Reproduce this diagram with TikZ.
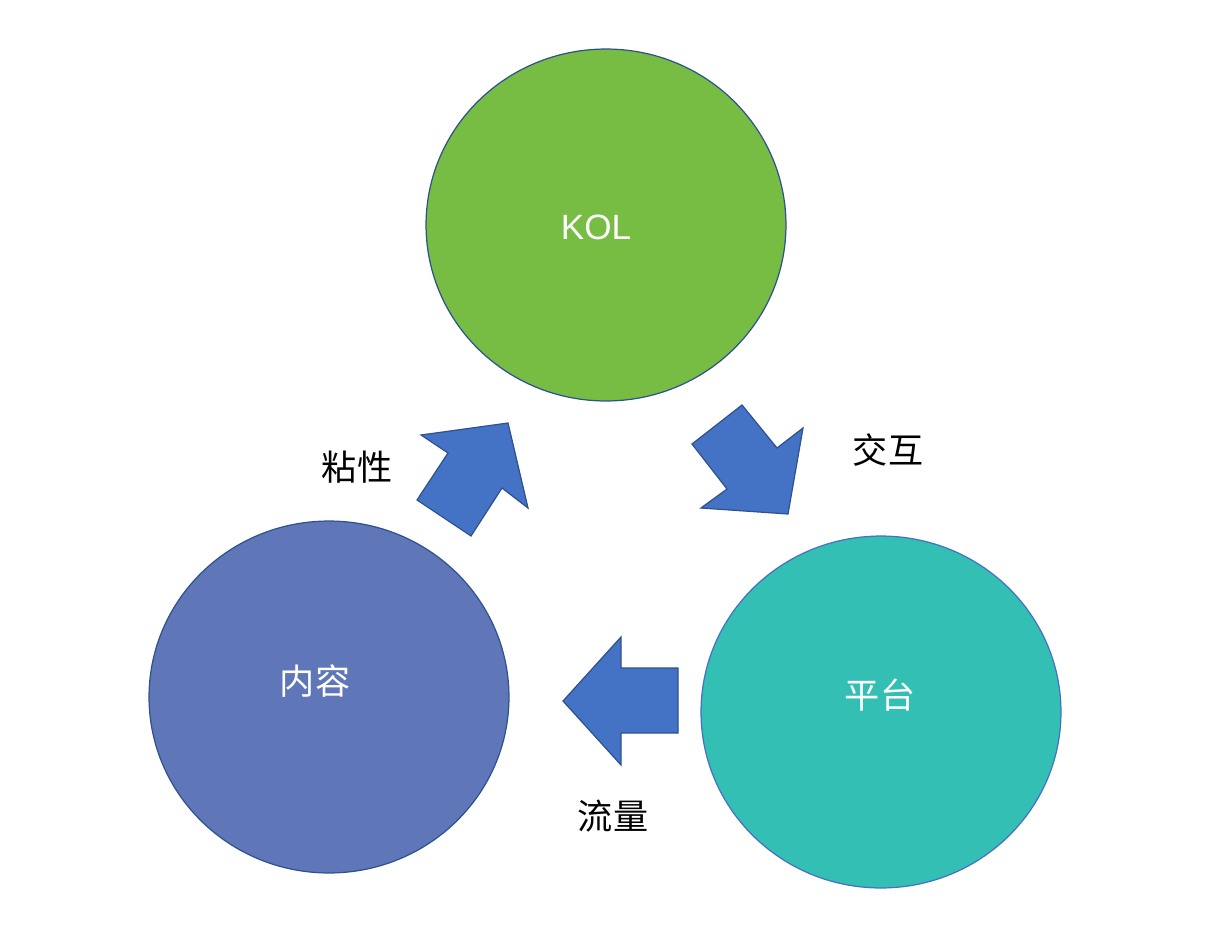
\documentclass[tikz,border=0pt]{standalone}
\usepackage{fontspec}
\setsansfont{Liberation Sans}
\newfontfamily\cjk{Noto Sans CJK SC}
\usetikzlibrary{shapes.geometric}
\definecolor{kolgreen}{HTML}{77BC43}
\definecolor{contentblue}{HTML}{5F76B8}
\definecolor{platformteal}{HTML}{33BFB4}
\definecolor{arrowblue}{HTML}{4472C4}
\definecolor{edgeblue}{HTML}{2F528F}
\tikzstyle{blockarrow} = [fill=arrowblue,draw=edgeblue,line width=0.7pt,line join=miter]
\tikzset{
bubble/.style= {ellipse, draw=edgeblue, line width=0.7pt, minimum width=7.2cm, minimum height=7.04cm},
bubbletext/.style= {text=white, font=\fontsize{20}{24}\selectfont},
wordtag/.style= {text=black, font=\cjk\fontsize{20}{24}\selectfont}
}

\begin{document}
\begin{tikzpicture}[x=0.02cm,y=-0.02cm]
\useasboundingbox (0,0) rectangle (1216,940);

% the three circles
\node[bubble,fill=kolgreen] (kol) at (606,225) {};
\node[bubble,fill=contentblue] (content) at (329,697) {};
\node[bubble,fill=platformteal,draw=arrowblue] (platform) at (881,712) {};

% the names inside them
\node[bubbletext,font=\sffamily\fontsize{20}{24}\selectfont] (kolname) at (596,227) {KOL};
\node[bubbletext,font=\cjk\fontsize{20}{24}\selectfont] (contentname) at (315,681) {内容};
\node[bubbletext,font=\cjk\fontsize{20}{24}\selectfont] (platformname) at (880,695) {平台};

% block arrows between the circles
\draw[blockarrow] (508,423) -- (528,508) -- (502,488) -- (471,536) -- (417,500) -- (448,453) -- (421,435) -- cycle;
\draw[blockarrow] (788,514) -- (701,508) -- (727,489) -- (692,444) -- (742,405) -- (777,448) -- (803,428) -- cycle;
\draw[blockarrow] (563,701) -- (621,637) -- (621,668) -- (678,668) -- (678,733) -- (621,733) -- (621,765) -- cycle;

% the words next to the arrows
\node[wordtag] (stick) at (357,467) {粘性};
\node[wordtag] (interact) at (888,450) {交互};
\node[wordtag] (traffic) at (613,816) {流量};

\end{tikzpicture}
\end{document}
